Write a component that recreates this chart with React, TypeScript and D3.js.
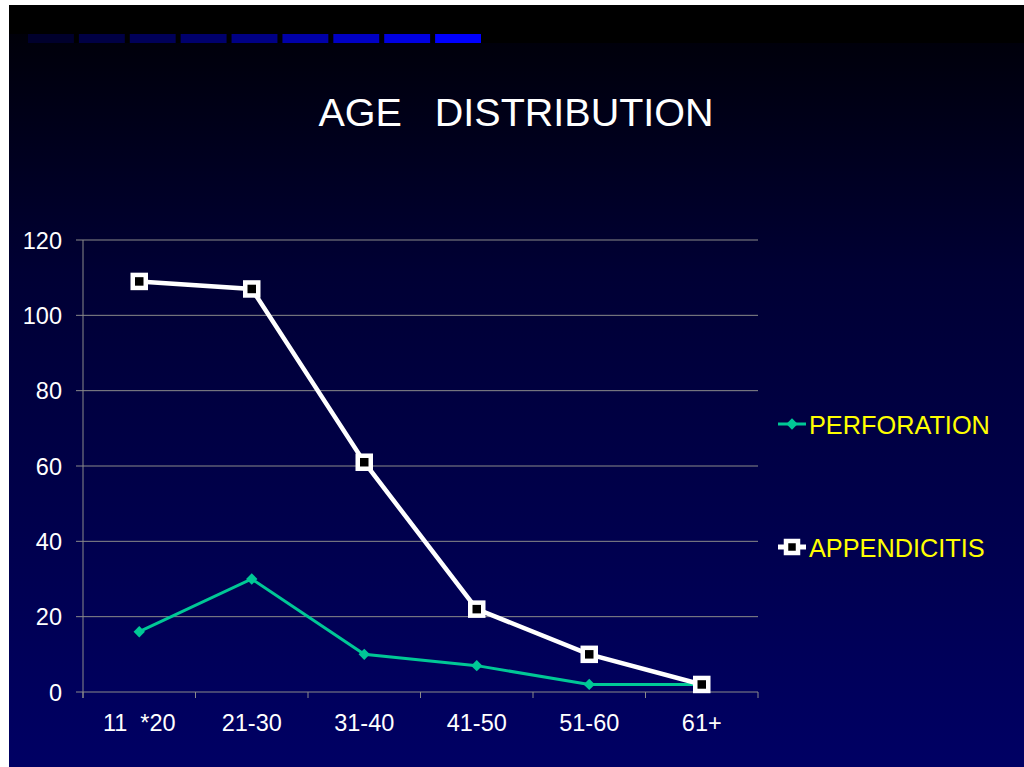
import React from "react";
import * as d3 from "d3";

// Age groups and case counts
const categories = ["11  *20", "21-30", "31-40", "41-50", "51-60", "61+"];
const perforation = [16, 30, 10, 7, 2, 2];
const appendicitis = [109, 107, 61, 22, 10, 2];
const yTicks = [0, 20, 40, 60, 80, 100, 120];

// Decorative header strip colours (dark to bright blue)
const stripColors = [
  "#00002c", "#000044", "#000058", "#00006c", "#000084",
  "#0000a8", "#0000c4", "#0000e0", "#0000ff",
];

const W = 1024;
const H = 767;
const FONT = "'Liberation Sans', Arial, Helvetica, sans-serif";

export default function App() {
  const x = d3.scaleBand<string>().domain(categories).range([83, 758]).padding(0);
  const y = d3.scaleLinear().domain([0, 120]).range([692, 240]);
  const cx = (i: number) => (x(categories[i]) as number) + x.bandwidth() / 2;

  const line = d3
    .line<number>()
    .x((_, i) => cx(i))
    .y((d) => y(d));

  const stripX = d3.scaleLinear().domain([0, stripColors.length]).range([28, 486]);

  const boundaries = d3.range(categories.length + 1).map((i) => 83 + i * x.bandwidth());

  return (
    <svg
      width={W}
      height={H}
      style={{ position: "absolute", left: 0, top: 0, display: "block" }}
    >
      <defs>
        <linearGradient id="bg" x1="0" y1="0" x2="0" y2="1">
          <stop offset="0" stopColor="#000004" />
          <stop offset="0.35" stopColor="#000034" />
          <stop offset="1" stopColor="#000064" />
        </linearGradient>
      </defs>
      <rect x={0} y={0} width={W} height={H} fill="#ffffff" />
      <rect x={9} y={5} width={W - 9} height={H - 5} fill="url(#bg)" />
      <rect x={9} y={5} width={W - 9} height={29} fill="#000000" />
      <rect x={28} y={34} width={W - 28} height={9} fill="#000000" />
      {stripColors.map((c, i) => (
        <rect
          key={i}
          x={stripX(i)}
          y={34}
          width={stripX(i + 1) - stripX(i) - 5}
          height={9}
          fill={c}
        />
      ))}

      <text
        x={516}
        y={126}
        fill="#ffffff"
        fontFamily={FONT}
        fontSize={39.5}
        textAnchor="middle"
        style={{ whiteSpace: "pre" }}
      >
        {"AGE   DISTRIBUTION"}
      </text>

      {/* grid and y axis */}
      {yTicks.map((t) => (
        <g key={t}>
          <line x1={76} x2={758} y1={y(t)} y2={y(t)} stroke="#8a8a8a" strokeWidth={1} />
          <text
            x={62}
            y={y(t) + 8.5}
            fill="#ffffff"
            fontFamily={FONT}
            fontSize={23.5}
            textAnchor="end"
          >
            {t}
          </text>
        </g>
      ))}
      <line x1={83} x2={83} y1={240} y2={698} stroke="#8a8a8a" strokeWidth={1} />
      {boundaries.map((b, i) => (
        <line key={i} x1={b} x2={b} y1={692} y2={698} stroke="#8a8a8a" strokeWidth={1} />
      ))}
      {categories.map((c, i) => (
        <text
          key={c}
          x={cx(i)}
          y={731}
          fill="#ffffff"
          fontFamily={FONT}
          fontSize={23.5}
          textAnchor="middle"
          style={{ whiteSpace: "pre" }}
        >
          {c}
        </text>
      ))}

      {/* perforation series */}
      <path d={line(perforation) ?? ""} fill="none" stroke="#00c896" strokeWidth={3} />
      {perforation.map((v, i) => (
        <rect
          key={i}
          x={cx(i) - 4}
          y={y(v) - 4}
          width={8}
          height={8}
          fill="#00c896"
          transform={`rotate(45 ${cx(i)} ${y(v)})`}
        />
      ))}

      {/* appendicitis series */}
      <path d={line(appendicitis) ?? ""} fill="none" stroke="#ffffff" strokeWidth={4.5} />
      {appendicitis.map((v, i) => (
        <rect
          key={i}
          x={cx(i) - 6.5}
          y={y(v) - 6.5}
          width={13}
          height={13}
          fill="#000000"
          stroke="#ffffff"
          strokeWidth={4.5}
        />
      ))}

      {/* legend */}
      <line x1={778} x2={806} y1={424} y2={424} stroke="#00c896" strokeWidth={3} />
      <rect
        x={788}
        y={420}
        width={8}
        height={8}
        fill="#00c896"
        transform="rotate(45 792 424)"
      />
      <text x={809} y={434} fill="#ffff00" fontFamily={FONT} fontSize={25.3}>
        PERFORATION
      </text>
      <line x1={778} x2={806} y1={547} y2={547} stroke="#ffffff" strokeWidth={5} />
      <rect
        x={786}
        y={541}
        width={12}
        height={12}
        fill="#000000"
        stroke="#ffffff"
        strokeWidth={4.5}
      />
      <text x={809} y={557} fill="#ffff00" fontFamily={FONT} fontSize={25.3}>
        APPENDICITIS
      </text>
    </svg>
  );
}
